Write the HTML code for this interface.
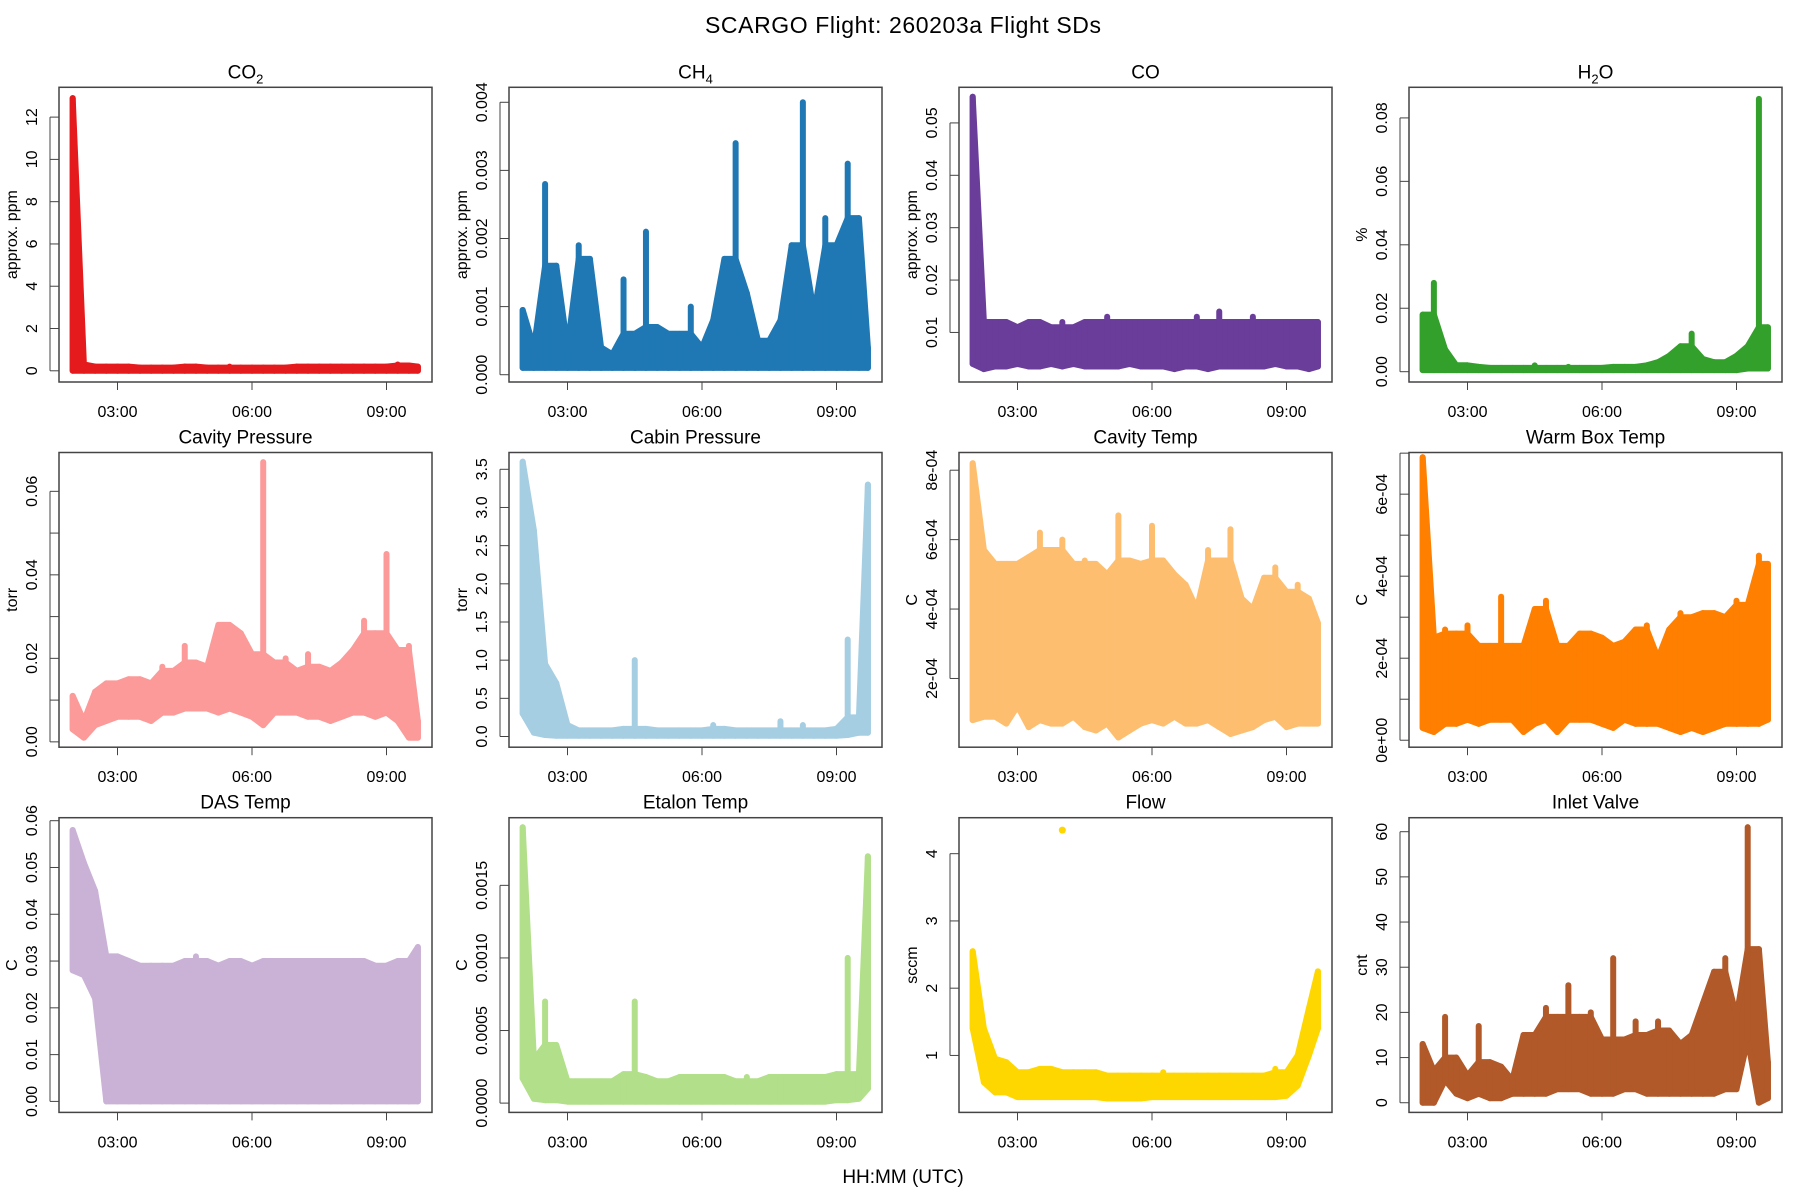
<!DOCTYPE html>
<html><head><meta charset="utf-8"><title>SCARGO Flight SDs</title>
<style>
html,body{margin:0;padding:0;background:#fff;}
svg{display:block;font-family:"Liberation Sans",Arial,sans-serif;}
</style></head>
<body>
<svg id="chart" width="1800" height="1200" viewBox="0 0 1800 1200" xmlns="http://www.w3.org/2000/svg">
<rect x="0" y="0" width="1800" height="1200" fill="#fff"/>
<text x="903" y="33" font-size="23" text-anchor="middle" textLength="396" fill="#000">SCARGO Flight: 260203a  Flight SDs</text>
<text x="903" y="1183" font-size="19" text-anchor="middle" fill="#000">HH:MM (UTC)</text>
</svg>
<script>
// shared time grid (hours UTC)
const times = [2.0,2.25,2.5,2.75,3.0,3.25,3.5,3.75,4.0,4.25,4.5,4.75,5.0,5.25,5.5,5.75,6.0,6.25,6.5,6.75,7.0,7.25,7.5,7.75,8.0,8.25,8.5,8.75,9.0,9.25,9.5,9.7];
const xTickValues = [3,6,9];
const xTickLabels = ["03:00","06:00","09:00"];

const co2Hi = [12.9,0.3,0.2,0.2,0.2,0.2,0.15,0.15,0.15,0.15,0.2,0.2,0.15,0.15,0.2,0.15,0.15,0.15,0.15,0.15,0.2,0.2,0.2,0.2,0.2,0.2,0.2,0.2,0.2,0.3,0.25,0.2];
const co2Lo = [0,0,0,0,0,0,0,0,0,0,0,0,0,0,0,0,0,0,0,0,0,0,0,0,0,0,0,0,0,0,0,0];
const co2Ticks = [0,2,4,6,8,10,12];

const ch4Hi = [0.00095,0.0004,0.0028,0.0016,0.0004,0.0019,0.0017,0.0004,0.0003,0.0014,0.0006,0.0021,0.0007,0.0006,0.0006,0.001,0.0004,0.0008,0.0017,0.0034,0.0012,0.0005,0.0005,0.0008,0.0019,0.004,0.0009,0.0023,0.0019,0.0031,0.0023,0.0004];
const ch4Lo = [0.0001,0.0001,0.0001,0.0001,0.0001,0.0001,0.0001,0.0001,0.0001,0.0001,0.0001,0.0001,0.0001,0.0001,0.0001,0.0001,0.0001,0.0001,0.0001,0.0001,0.0001,0.0001,0.0001,0.0001,0.0001,0.0001,0.0001,0.0001,0.0001,0.0001,0.0001,0.0001];
const ch4Ticks = [0,0.001,0.002,0.003,0.004];

const coHi = [0.055,0.012,0.012,0.012,0.011,0.012,0.012,0.011,0.012,0.011,0.012,0.012,0.013,0.012,0.012,0.012,0.012,0.012,0.012,0.012,0.013,0.012,0.014,0.012,0.012,0.013,0.012,0.012,0.012,0.012,0.012,0.012];
const coLo = [0.004,0.003,0.0035,0.0035,0.004,0.0035,0.0035,0.004,0.0035,0.004,0.0035,0.0035,0.0035,0.0035,0.004,0.0035,0.0035,0.0035,0.003,0.0035,0.0035,0.003,0.0035,0.0035,0.0035,0.0035,0.0035,0.004,0.0035,0.0035,0.003,0.0035];
const coTicks = [0.01,0.02,0.03,0.04,0.05];

const h2oHi = [0.018,0.028,0.007,0.002,0.002,0.0015,0.0012,0.0012,0.0012,0.0012,0.002,0.0012,0.0012,0.0015,0.0012,0.0012,0.0012,0.0015,0.0015,0.0015,0.002,0.003,0.005,0.008,0.012,0.004,0.003,0.003,0.005,0.008,0.086,0.014];
const h2oLo = [0.0005,0.0005,0.0005,0.0005,0.0005,0.0005,0.0005,0.0005,0.0005,0.0005,0.0005,0.0005,0.0005,0.0005,0.0005,0.0005,0.0005,0.0005,0.0005,0.0005,0.0005,0.0005,0.0005,0.0005,0.0005,0.0005,0.0005,0.0005,0.0005,0.001,0.001,0.001];
const h2oTicks = [0,0.02,0.04,0.06,0.08];

const cavPHi = [0.011,0.005,0.012,0.014,0.014,0.015,0.015,0.014,0.018,0.017,0.023,0.019,0.018,0.028,0.028,0.026,0.021,0.067,0.019,0.02,0.017,0.021,0.018,0.017,0.019,0.022,0.029,0.026,0.045,0.022,0.023,0.005];
const cavPLo = [0.003,0.001,0.004,0.005,0.006,0.006,0.006,0.005,0.007,0.007,0.008,0.008,0.008,0.007,0.008,0.007,0.006,0.004,0.007,0.007,0.007,0.006,0.006,0.005,0.006,0.007,0.007,0.006,0.007,0.005,0.001,0.001];
const cavPTicks = [0,0.01,0.02,0.03,0.04,0.05,0.06];

const cabPHi = [3.6,2.7,0.95,0.7,0.15,0.08,0.08,0.08,0.08,0.1,1.0,0.1,0.08,0.08,0.08,0.08,0.08,0.15,0.1,0.08,0.08,0.08,0.08,0.2,0.08,0.15,0.08,0.08,0.1,1.27,0.25,3.3];
const cabPLo = [0.3,0.05,0.02,0.01,0.01,0.01,0.01,0.01,0.01,0.01,0.01,0.01,0.01,0.01,0.01,0.01,0.01,0.01,0.01,0.01,0.01,0.01,0.01,0.01,0.01,0.01,0.01,0.01,0.01,0.02,0.05,0.05];
const cabPTicks = [0,0.5,1,1.5,2,2.5,3,3.5];

const cavTHi = [8.2e-4,5.7e-4,5.3e-4,5.3e-4,5.3e-4,5.5e-4,6.2e-4,5.7e-4,6.0e-4,5.3e-4,5.4e-4,5.3e-4,5.0e-4,6.7e-4,5.4e-4,5.3e-4,6.4e-4,5.4e-4,5.0e-4,4.7e-4,4.0e-4,5.7e-4,5.4e-4,6.3e-4,4.3e-4,4.0e-4,4.9e-4,5.2e-4,4.5e-4,4.7e-4,4.3e-4,3.6e-4];
const cavTLo = [0.8e-4,0.9e-4,0.9e-4,0.7e-4,1.2e-4,0.6e-4,0.8e-4,0.7e-4,0.7e-4,0.9e-4,0.6e-4,0.5e-4,0.7e-4,0.3e-4,0.5e-4,0.7e-4,0.8e-4,0.7e-4,0.9e-4,0.7e-4,0.7e-4,0.8e-4,0.6e-4,0.4e-4,0.5e-4,0.6e-4,0.8e-4,0.9e-4,0.6e-4,0.7e-4,0.7e-4,0.7e-4];
const cavTTicks = [2e-4,4e-4,6e-4,8e-4];

const wbtHi = [6.9e-4,2.5e-4,2.7e-4,2.6e-4,2.8e-4,2.3e-4,2.3e-4,3.5e-4,2.3e-4,2.3e-4,3.2e-4,3.4e-4,2.3e-4,2.3e-4,2.6e-4,2.6e-4,2.5e-4,2.3e-4,2.4e-4,2.7e-4,2.8e-4,2.0e-4,2.7e-4,3.1e-4,3.0e-4,3.1e-4,3.1e-4,3.0e-4,3.4e-4,3.3e-4,4.5e-4,4.3e-4];
const wbtLo = [0.3e-4,0.2e-4,0.4e-4,0.4e-4,0.5e-4,0.4e-4,0.5e-4,0.5e-4,0.5e-4,0.2e-4,0.4e-4,0.5e-4,0.2e-4,0.5e-4,0.5e-4,0.5e-4,0.4e-4,0.3e-4,0.5e-4,0.4e-4,0.4e-4,0.4e-4,0.3e-4,0.2e-4,0.3e-4,0.2e-4,0.3e-4,0.4e-4,0.4e-4,0.4e-4,0.4e-4,0.5e-4];
const wbtTicks = [0,1e-4,2e-4,3e-4,4e-4,5e-4,6e-4,7e-4];

const dasHi = [0.058,0.051,0.045,0.031,0.031,0.03,0.029,0.029,0.029,0.029,0.03,0.031,0.03,0.029,0.03,0.03,0.029,0.03,0.03,0.03,0.03,0.03,0.03,0.03,0.03,0.03,0.03,0.029,0.029,0.03,0.03,0.033];
const dasLo = [0.028,0.027,0.022,0,0,0,0,0,0,0,0,0,0,0,0,0,0,0,0,0,0,0,0,0,0,0,0,0,0,0,0,0];
const dasTicks = [0,0.01,0.02,0.03,0.04,0.05,0.06];

const etalonHi = [0.0019,0.0003,0.0007,0.0004,0.00015,0.00015,0.00015,0.00015,0.00015,0.0002,0.0007,0.00018,0.00015,0.00015,0.00018,0.00018,0.00018,0.00018,0.00018,0.00015,0.00018,0.00015,0.00018,0.00018,0.00018,0.00018,0.00018,0.00018,0.0002,0.001,0.0002,0.0017];
const etalonLo = [0.00017,0.00003,0.00002,0.00002,0.00001,0.00001,0.00001,0.00001,0.00001,0.00001,0.00001,0.00001,0.00001,0.00001,0.00001,0.00001,0.00001,0.00001,0.00001,0.00001,0.00001,0.00001,0.00001,0.00001,0.00001,0.00001,0.00001,0.00001,0.00002,0.00002,0.00003,0.0001];
const etalonTicks = [0,0.0005,0.001,0.0015];

const flowHi = [2.55,1.4,0.95,0.9,0.75,0.75,0.8,0.8,0.75,0.75,0.75,0.75,0.7,0.7,0.7,0.7,0.7,0.75,0.7,0.7,0.7,0.7,0.7,0.7,0.7,0.7,0.7,0.8,0.75,1.0,1.7,2.25];
const flowLo = [1.4,0.6,0.45,0.45,0.38,0.38,0.38,0.38,0.38,0.38,0.38,0.38,0.36,0.36,0.36,0.36,0.38,0.38,0.38,0.38,0.38,0.38,0.38,0.38,0.38,0.38,0.38,0.38,0.4,0.55,1.0,1.4];
const flowTicks = [1,2,3,4];
const flowOutT = [4.0];
const flowOutV = [4.35];

const inletHi = [13,7,19,10,6,17,9,8,5,15,15,21,19,26,19,20,14,32,14,18,15,18,16,13,15,22,29,32,19,61,34,9];
const inletLo = [0,0,5,2,1,2,1,1,2,2,2,2,3,3,3,2,2,2,3,3,2,2,2,2,2,2,2,3,3,14,0,1];
const inletTicks = [0,10,20,30,40,50,60];

const panels = [
 {key:"co2",title:"CO",sub:"2",ylab:"approx. ppm",col:"#E41A1C",hi:co2Hi,lo:co2Lo,ticks:co2Ticks,ylim:[-0.53,13.41],fmt:v=>String(v),skip:[]},
 {key:"ch4",title:"CH",sub:"4",ylab:"approx. ppm",col:"#1F78B4",hi:ch4Hi,lo:ch4Lo,ticks:ch4Ticks,ylim:[-0.000107,0.00422],fmt:v=>v.toFixed(3),skip:[]},
 {key:"co",title:"CO",sub:"",ylab:"approx. ppm",col:"#6A3D9A",hi:coHi,lo:coLo,ticks:coTicks,ylim:[0.00054,0.0568],fmt:v=>v.toFixed(2),skip:[]},
 {key:"h2o",title:"H",sub:"2",tail:"O",ylab:"%",col:"#33A02C",hi:h2oHi,lo:h2oLo,ticks:h2oTicks,ylim:[-0.00325,0.08965],fmt:v=>v.toFixed(2),skip:[]},
 {key:"cavity-pressure",title:"Cavity Pressure",sub:"",ylab:"torr",col:"#FB9A99",hi:cavPHi,lo:cavPLo,ticks:cavPTicks,ylim:[-0.00128,0.0693],fmt:v=>v.toFixed(2),skip:[1,3,5]},
 {key:"cabin-pressure",title:"Cabin Pressure",sub:"",ylab:"torr",col:"#A6CEE3",hi:cabPHi,lo:cabPLo,ticks:cabPTicks,ylim:[-0.14,3.72],fmt:v=>v.toFixed(1),skip:[]},
 {key:"cavity-temp",title:"Cavity Temp",sub:"",ylab:"C",col:"#FDBF6F",hi:cavTHi,lo:cavTLo,ticks:cavTTicks,ylim:[0.000002,0.000851],fmt:v=>Math.round(v*1e4)+"e-04",skip:[]},
 {key:"warm-box-temp",title:"Warm Box Temp",sub:"",ylab:"C",col:"#FF7F00",hi:wbtHi,lo:wbtLo,ticks:wbtTicks,ylim:[-0.000017,0.0007016],fmt:v=>v===0?"0e+00":Math.round(v*1e4)+"e-04",skip:[1,3,5,7]},
 {key:"das-temp",title:"DAS Temp",sub:"",ylab:"C",col:"#CAB2D6",hi:dasHi,lo:dasLo,ticks:dasTicks,ylim:[-0.00235,0.06064],fmt:v=>v.toFixed(2),skip:[]},
 {key:"etalon-temp",title:"Etalon Temp",sub:"",ylab:"C",col:"#B2DF8A",hi:etalonHi,lo:etalonLo,ticks:etalonTicks,ylim:[-0.000064,0.001966],fmt:v=>v.toFixed(4),skip:[]},
 {key:"flow",title:"Flow",sub:"",ylab:"sccm",col:"#FFD700",hi:flowHi,lo:flowLo,ticks:flowTicks,ylim:[0.153,4.535],fmt:v=>String(v),skip:[],outT:flowOutT,outV:flowOutV},
 {key:"inlet-valve",title:"Inlet Valve",sub:"",ylab:"cnt",col:"#B15928",hi:inletHi,lo:inletLo,ticks:inletTicks,ylim:[-2.14,63.1],fmt:v=>String(v),skip:[]}
];

const NS = "http://www.w3.org/2000/svg";
const svg = document.getElementById("chart");
const XLIM = [1.695, 10.015];
const PW = 373, PH = 294.7;

function mk(tag, attrs, parent){
  const e = document.createElementNS(NS, tag);
  for (const k in attrs) e.setAttribute(k, attrs[k]);
  parent.appendChild(e);
  return e;
}

panels.forEach((p, i) => {
  const c = i % 4, r = Math.floor(i / 4);
  const L = 59 + 450 * c, T = 87.3 + 365.2 * r;
  const xs = t => L + (t - XLIM[0]) / (XLIM[1] - XLIM[0]) * PW;
  const ys = v => T + PH - (v - p.ylim[0]) / (p.ylim[1] - p.ylim[0]) * PH;

  const g = mk("g", {}, svg);
  
  

  const cp = mk("clipPath", {id: "clip" + i}, g);
  mk("rect", {x: L, y: T, width: PW, height: PH}, cp);

  const dg = mk("g", {"clip-path": "url(#clip" + i + ")"}, g);
  
  
  const n = times.length;
  const env = p.hi.map((h, k) => {
    const a = k > 0 ? p.hi[k - 1] : h, b = k < n - 1 ? p.hi[k + 1] : h;
    return Math.min(h, Math.max(a, b));
  });
  let pts = [];
  for (let k = 0; k < n; k++) pts.push(xs(times[k]).toFixed(1) + "," + ys(env[k]).toFixed(1));
  for (let k = n - 1; k >= 0; k--) pts.push(xs(times[k]).toFixed(1) + "," + ys(p.lo[k]).toFixed(1));
  const poly = mk("polygon", {points: pts.join(" "), fill: p.col, stroke: p.col, "stroke-width": 6, "stroke-linejoin": "round"}, dg);
  
  
  for (let k = 0; k < n; k++) {
    const ln = mk("line", {x1: xs(times[k]), x2: xs(times[k]), y1: ys(p.lo[k]), y2: ys(p.hi[k]), stroke: p.col, "stroke-width": 6, "stroke-linecap": "round"}, dg);
    
    
  }
  if (p.outT) {
    p.outT.forEach((t, k) => {
      const o = mk("circle", {cx: xs(t), cy: ys(p.outV[k]), r: 3.5, fill: p.col}, dg);
      
      
    });
  }

  const box = mk("rect", {x: L, y: T, width: PW, height: PH, fill: "none", stroke: "#444", "stroke-width": 1.5}, g);
  
  

  xTickValues.forEach((tv, k) => {
    const x = xs(tv);
    mk("line", {x1: x, x2: x, y1: T + PH, y2: T + PH + 8, stroke: "#444", "stroke-width": 1}, g);
    const tl = mk("text", {x: x, y: T + PH + 35, "font-size": 16, "text-anchor": "middle", fill: "#000"}, g);
    tl.textContent = xTickLabels[k];
    
    
  });

  const y0 = ys(p.ticks[0]), y1 = ys(p.ticks[p.ticks.length - 1]);
  mk("line", {x1: L - 9, x2: L - 9, y1: y0, y2: y1, stroke: "#444", "stroke-width": 1}, g);
  p.ticks.forEach((tv, k) => {
    const y = ys(tv);
    mk("line", {x1: L - 9, x2: L, y1: y, y2: y, stroke: "#444", "stroke-width": 1}, g);
    if (p.skip.indexOf(k) >= 0) return;
    const tl = mk("text", {x: 0, y: 0, "font-size": 16, "text-anchor": "middle", fill: "#000", transform: "translate(" + (L - 22) + "," + y + ") rotate(-90)"}, g);
    tl.textContent = p.fmt(tv);
    
    
  });

  const yl = mk("text", {x: 0, y: 0, "font-size": 16, "text-anchor": "middle", fill: "#000", transform: "translate(" + (L - 42) + "," + (T + PH / 2) + ") rotate(-90)"}, g);
  yl.textContent = p.ylab;
  
  

  const tt = mk("text", {x: L + PW / 2, y: T - 9, "font-size": 19, "text-anchor": "middle", fill: "#000"}, g);
  
  
  tt.appendChild(document.createTextNode(p.title));
  if (p.sub) {
    const s = mk("tspan", {"font-size": 13, dy: 5}, tt);
    s.textContent = p.sub;
    if (p.tail) {
      const t2 = mk("tspan", {"font-size": 19, dy: -5}, tt);
      t2.textContent = p.tail;
    }
  }
});
</script>
</body></html>
